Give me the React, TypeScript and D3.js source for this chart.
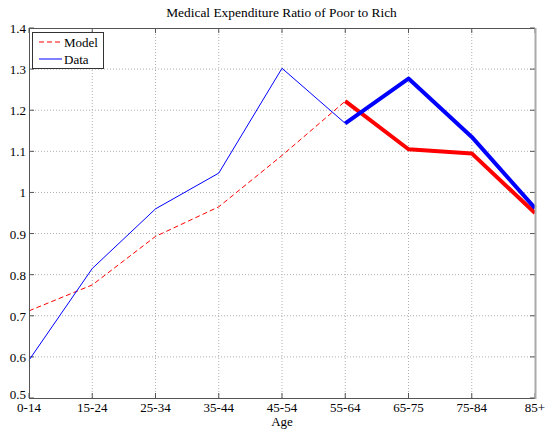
import React from "react";
import * as d3 from "d3";

const ageGroups = ["0-14", "15-24", "25-34", "35-44", "45-54", "55-64", "65-75", "75-84", "85+"];
const modelValues = [0.712, 0.775, 0.893, 0.965, 1.09, 1.222, 1.105, 1.095, 0.95];
const dataValues = [0.592, 0.815, 0.96, 1.047, 1.302, 1.168, 1.277, 1.135, 0.962];
const yTicks = [0.5, 0.6, 0.7, 0.8, 0.9, 1, 1.1, 1.2, 1.3, 1.4];
// index from which the series are drawn with heavy strokes
const thickFrom = 5;

const W = 546;
const H = 429;
const M = { left: 29, right: 11, top: 28, bottom: 31 };

export default function App() {
  const x = d3.scalePoint<string>().domain(ageGroups).range([M.left, W - M.right]);
  const y = d3.scaleLinear().domain([0.5, 1.4]).range([H - M.bottom, M.top]);
  const line = d3
    .line<[string, number]>()
    .x((d) => x(d[0]) as number)
    .y((d) => y(d[1]));
  const pairs = (vals: number[]) => ageGroups.map((g, i) => [g, vals[i]] as [string, number]);
  const model = pairs(modelValues);
  const data = pairs(dataValues);
  const x0 = M.left;
  const x1 = W - M.right;
  const y0 = H - M.bottom;
  const y1 = M.top;
  const font = "'Liberation Serif', 'Times New Roman', serif";
  const tick = 5;

  return (
    <svg width={W} height={H} style={{ position: "absolute", left: 0, top: 0, background: "#fff" }} fontFamily={font}>
      <rect x={0} y={0} width={W} height={H} fill="#fff" />
      {/* grid */}
      {ageGroups.slice(1, -1).map((g) => (
        <line key={"gx" + g} x1={x(g)} x2={x(g)} y1={y0} y2={y1} stroke="#b0b0b0" strokeDasharray="1,2" />
      ))}
      {yTicks.slice(1, -1).map((t) => (
        <line key={"gy" + t} x1={x0} x2={x1} y1={y(t)} y2={y(t)} stroke="#b0b0b0" strokeDasharray="1,2" />
      ))}
      {/* ticks, inward on all sides */}
      {ageGroups.map((g) => (
        <g key={"tx" + g} stroke="#555">
          <line x1={x(g)} x2={x(g)} y1={y0} y2={y0 - tick} />
          <line x1={x(g)} x2={x(g)} y1={y1} y2={y1 + tick} />
        </g>
      ))}
      {yTicks.map((t) => (
        <g key={"ty" + t} stroke="#555">
          <line x1={x0} x2={x0 + tick} y1={y(t)} y2={y(t)} />
          <line x1={x1} x2={x1 - tick} y1={y(t)} y2={y(t)} />
        </g>
      ))}
      {/* series */}
      <path d={line(model.slice(0, thickFrom + 1)) ?? ""} fill="none" stroke="#ff0000" strokeWidth={1} strokeDasharray="5,3" />
      <path d={line(data.slice(0, thickFrom + 1)) ?? ""} fill="none" stroke="#0000ff" strokeWidth={1} />
      <path d={line(model.slice(thickFrom)) ?? ""} fill="none" stroke="#ff0000" strokeWidth={4} strokeLinejoin="round" />
      <path d={line(data.slice(thickFrom)) ?? ""} fill="none" stroke="#0000ff" strokeWidth={4} strokeLinejoin="round" />
      {/* axes box */}
      <line x1={x0} x2={x1} y1={y1 + 0.5} y2={y1 + 0.5} stroke="#555" />
      <line x1={x0 + 0.5} x2={x0 + 0.5} y1={y1} y2={y0} stroke="#555" />
      <line x1={x0} x2={x1} y1={y0 + 0.5} y2={y0 + 0.5} stroke="#555" />
      <line x1={x1 + 0.5} x2={x1 + 0.5} y1={y1} y2={y0 + 1} stroke="#aaa" strokeWidth={2} />
      {/* tick labels */}
      {yTicks.map((t, i) => (
        <text key={"ly" + t} x={x0 - 3} y={y(t) + (i === 0 ? 1 : 5)} fontSize={13} textAnchor="end" fill="#000">
          {String(t)}
        </text>
      ))}
      {ageGroups.map((g) => (
        <text key={"lx" + g} x={x(g)} y={y0 + 13.5} fontSize={13} textAnchor="middle" fill="#000">
          {g}
        </text>
      ))}
      <text x={(x0 + x1) / 2} y={H - 3} fontSize={13} textAnchor="middle" fill="#000">
        Age
      </text>
      <text x={(x0 + x1) / 2 - 0.5} y={17} fontSize={13.4} textAnchor="middle" fill="#000">
        Medical Expenditure Ratio of Poor to Rich
      </text>
      {/* legend */}
      <g>
        <rect x={32.5} y={32.5} width={71} height={36} fill="#fff" stroke="#333" strokeWidth={1} />
        <line x1={39} x2={62} y1={42} y2={42} stroke="#ff0000" strokeDasharray="5,3" />
        <text x={64} y={46.5} fontSize={13} fill="#000">Model</text>
        <line x1={39} x2={62} y1={59} y2={59} stroke="#0000ff" />
        <text x={64} y={63.5} fontSize={13} fill="#000">Data</text>
      </g>
    </svg>
  );
}
